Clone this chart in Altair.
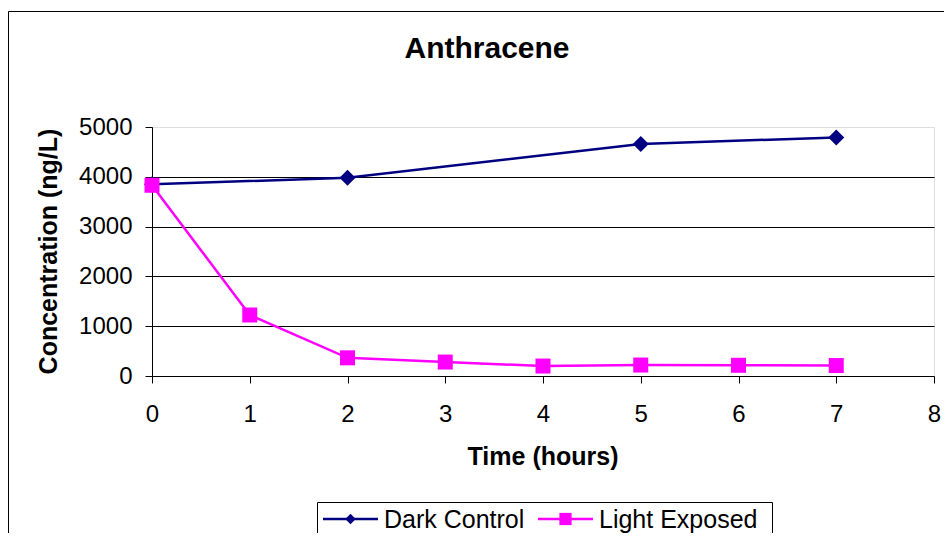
import altair as alt
import pandas as pd

# ---- data ----
SERIES = ["Dark Control", "Light Exposed"]
COLORS = ["#000080", "#FF00FF"]
SHAPES = ["diamond", "square"]
HOURS_DARK = [0, 2, 5, 7]
DARK = [3850, 3980, 4660, 4790]
HOURS_LIGHT = [0, 1, 2, 3, 4, 5, 6, 7]
LIGHT = [3830, 1225, 365, 280, 200, 220, 215, 210]
X_TICKS = [0, 1, 2, 3, 4, 5, 6, 7, 8]
Y_TICKS = [0, 1000, 2000, 3000, 4000, 5000]
TITLE = "Anthracene"
X_TITLE = "Time (hours)"
Y_TITLE = "Concentration (ng/L)"

FONT = "Liberation Sans"

rows = []
for h, v in zip(HOURS_DARK, DARK):
    rows.append({"hours": h, "value": v, "series": SERIES[0]})
for h, v in zip(HOURS_LIGHT, LIGHT):
    rows.append({"hours": h, "value": v, "series": SERIES[1]})
df = pd.DataFrame(rows)

x_enc = alt.X(
    "hours:Q",
    scale=alt.Scale(domain=[0, 8], nice=False, zero=False),
    axis=alt.Axis(
        values=X_TICKS, title=None, grid=False, format="d",
        labelFont=FONT, labelFontSize=24, labelColor="black", labelPadding=19,
        tickSize=7, tickColor="black", domainColor="black",
        labelFlush=False, labelOverlap=False,
    ),
)
y_enc = alt.Y(
    "value:Q",
    scale=alt.Scale(domain=[0, 5000], nice=False),
    axis=alt.Axis(
        values=Y_TICKS, title=None, grid=True, format="d",
        gridColor="black", gridWidth=1,
        gridOpacity=alt.condition("datum.value == 5000 || datum.value == 0", alt.value(0), alt.value(1)),
        labelFont=FONT, labelFontSize=24, labelColor="black", labelPadding=13,
        tickSize=7, tickColor="black", domainColor="black",
        labelFlush=False, labelOverlap=False,
    ),
)
color_enc = alt.Color("series:N", scale=alt.Scale(domain=SERIES, range=COLORS), legend=None)

base = alt.Chart(df)
lines = base.mark_line(strokeWidth=2.5).encode(x=x_enc, y=y_enc, color=color_enc, order="hours:Q")
points = base.mark_point(filled=True, opacity=1, strokeWidth=0).encode(
    x=x_enc, y=y_enc, color=color_enc,
    shape=alt.Shape("series:N", scale=alt.Scale(domain=SERIES, range=SHAPES), legend=None),
    size=alt.Size("series:N", scale=alt.Scale(domain=SERIES, range=[256, 225]), legend=None),
)

one = pd.DataFrame({"_": [0]})
deco = alt.Chart(one)

title = deco.mark_text(text=TITLE, font=FONT, fontSize=30, fontWeight="bold",
                       align="center", baseline="alphabetic", color="black").encode(
    x=alt.value(335), y=alt.value(-69))
xtitle = deco.mark_text(text=X_TITLE, font=FONT, fontSize=25, fontWeight="bold",
                        align="center", baseline="alphabetic", color="black").encode(
    x=alt.value(391), y=alt.value(338))
ytitle = deco.mark_text(text=Y_TITLE, font=FONT, fontSize=25, fontWeight="bold", angle=270,
                        align="center", baseline="alphabetic", color="black").encode(
    x=alt.value(-95), y=alt.value(124.5))

frame = deco.mark_rect(fill="transparent", stroke="black", strokeWidth=1).encode(
    x=alt.value(-143.5), x2=alt.value(900), y=alt.value(-115.5), y2=alt.value(700))
legbox = deco.mark_rect(fill="white", stroke="black", strokeWidth=1).encode(
    x=alt.value(165.5), x2=alt.value(620.5), y=alt.value(375.5), y2=alt.value(700))

leg_dark_line = deco.mark_rule(color=COLORS[0], strokeWidth=2.5).encode(
    x=alt.value(171), x2=alt.value(226), y=alt.value(392))
leg_dark_pt = deco.mark_point(shape=SHAPES[0], filled=True, opacity=1, color=COLORS[0], size=110).encode(
    x=alt.value(198.5), y=alt.value(392))
leg_dark_txt = deco.mark_text(text=SERIES[0], font=FONT, fontSize=25, align="left",
                              baseline="alphabetic", color="black").encode(
    x=alt.value(232), y=alt.value(401))
leg_light_line = deco.mark_rule(color=COLORS[1], strokeWidth=2.5).encode(
    x=alt.value(386), x2=alt.value(441), y=alt.value(392))
leg_light_pt = deco.mark_point(shape=SHAPES[1], filled=True, opacity=1, color=COLORS[1], size=150).encode(
    x=alt.value(413.5), y=alt.value(392))
leg_light_txt = deco.mark_text(text=SERIES[1], font=FONT, fontSize=25, align="left",
                               baseline="alphabetic", color="black").encode(
    x=alt.value(447), y=alt.value(401))

chart = alt.layer(
    frame, lines, points, title, xtitle, ytitle,
    legbox, leg_dark_line, leg_dark_pt, leg_dark_txt,
    leg_light_line, leg_light_pt, leg_light_txt,
).resolve_scale(color="shared").properties(
    width=782, height=249,
    autosize=alt.AutoSizeParams(type="none"),
    padding={"left": 144, "top": 119, "right": 10, "bottom": 157},
).configure_view(stroke="#808080", strokeWidth=2.5).configure(background="white")

chart.save("out.html", embed_options={"renderer": "svg", "actions": False})
